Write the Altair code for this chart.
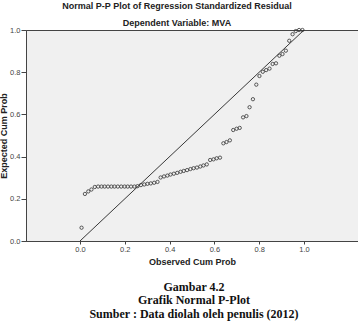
import altair as alt
import pandas as pd

observed = [0.007, 0.022, 0.037, 0.051, 0.066, 0.081, 0.096, 0.110, 0.125, 0.140,
            0.154, 0.169, 0.184, 0.199, 0.213, 0.228, 0.243, 0.257, 0.272, 0.287,
            0.301, 0.316, 0.331, 0.346, 0.360, 0.375, 0.390, 0.404, 0.419, 0.434,
            0.449, 0.463, 0.478, 0.493, 0.507, 0.522, 0.537, 0.551, 0.566, 0.581,
            0.596, 0.610, 0.625, 0.640, 0.654, 0.669, 0.684, 0.699, 0.713, 0.728,
            0.743, 0.757, 0.772, 0.787, 0.801, 0.816, 0.831, 0.846, 0.860, 0.875,
            0.890, 0.904, 0.919, 0.934, 0.949, 0.963, 0.978, 0.993]
expected = [0.063, 0.223, 0.235, 0.244, 0.256, 0.258, 0.258, 0.258, 0.258, 0.258,
            0.258, 0.258, 0.258, 0.258, 0.258, 0.258, 0.258, 0.260, 0.265, 0.268,
            0.271, 0.273, 0.276, 0.280, 0.301, 0.306, 0.310, 0.315, 0.319, 0.323,
            0.328, 0.332, 0.336, 0.341, 0.345, 0.348, 0.353, 0.358, 0.363, 0.384,
            0.387, 0.392, 0.395, 0.463, 0.469, 0.477, 0.526, 0.532, 0.536, 0.586,
            0.592, 0.634, 0.672, 0.741, 0.782, 0.802, 0.810, 0.817, 0.839, 0.842,
            0.878, 0.886, 0.902, 0.949, 0.980, 0.995, 1.000, 1.000]
ref_line_x = [0.0, 1.0]
ref_line_y = [0.0, 1.0]
tick_values = [0.0, 0.2, 0.4, 0.6, 0.8, 1.0]
caption_lines = ["Gambar 4.2", "Grafik Normal P-Plot", "Sumber : Data diolah oleh penulis (2012)"]

pts = pd.DataFrame({"obs": observed, "exp": expected})
ref = pd.DataFrame({"obs": ref_line_x, "exp": ref_line_y})

xscale = alt.Scale(domain=[-0.241, 1.241], nice=False, zero=False)
yscale = alt.Scale(domain=[0, 1], nice=False, zero=False)

xaxis = alt.Axis(title="Observed Cum Prob", values=tick_values, format=".1f",
                 grid=False, tickSize=3, labelPadding=1, titlePadding=5)
yaxis = alt.Axis(title="Expected Cum Prob", values=tick_values, format=".1f",
                 grid=False, tickSize=5, labelPadding=1, titlePadding=1)

points = alt.Chart(pts).mark_point(shape="circle", filled=False, size=11,
                                   strokeWidth=0.8, color="#333333", opacity=1).encode(
    x=alt.X("obs:Q", scale=xscale, axis=xaxis),
    y=alt.Y("exp:Q", scale=yscale, axis=yaxis),
)

line = alt.Chart(ref).mark_line(color="#222222", strokeWidth=0.9).encode(
    x=alt.X("obs:Q", scale=xscale),
    y=alt.Y("exp:Q", scale=yscale),
)

caption = alt.Chart(pd.DataFrame({"t": [0]})).mark_text(
    font="Liberation Serif", fontWeight="bold", fontSize=12, lineHeight=13.5,
    align="center", baseline="middle", color="#111111",
).encode(
    x=alt.value(168), y=alt.value(256.7), text=alt.value(caption_lines)
)

chart = alt.layer(line, points, caption).properties(
    width=332, height=211,
    title=alt.TitleParams(
        text="Normal P-P Plot of Regression Standardized Residual",
        subtitle="Dependent Variable: MVA",
        font="Liberation Sans", fontSize=9, fontWeight="bold", color="#222222",
        subtitleFont="Liberation Sans", subtitleFontSize=9, subtitleFontWeight="bold",
        subtitleColor="#222222", subtitlePadding=8, anchor="middle", frame="group",
        dx=-15, offset=-2,
    ),
).configure(
    font="Liberation Sans",
    autosize=alt.AutoSizeParams(type="none"),
    padding={"left": 26, "top": 30, "right": 0, "bottom": 86},
    background="white",
).configure_view(
    fill="#f0f0f0", stroke="#444444", strokeWidth=1,
).configure_axis(
    domainColor="#444444", tickColor="#444444", labelColor="#444444",
    labelFontSize=7.5, labelFont="Liberation Sans",
    titleFont="Liberation Sans", titleFontSize=9, titleFontWeight="bold", titleColor="#222222",
)

chart.save("out.html", embed_options={"renderer": "svg", "actions": False})
